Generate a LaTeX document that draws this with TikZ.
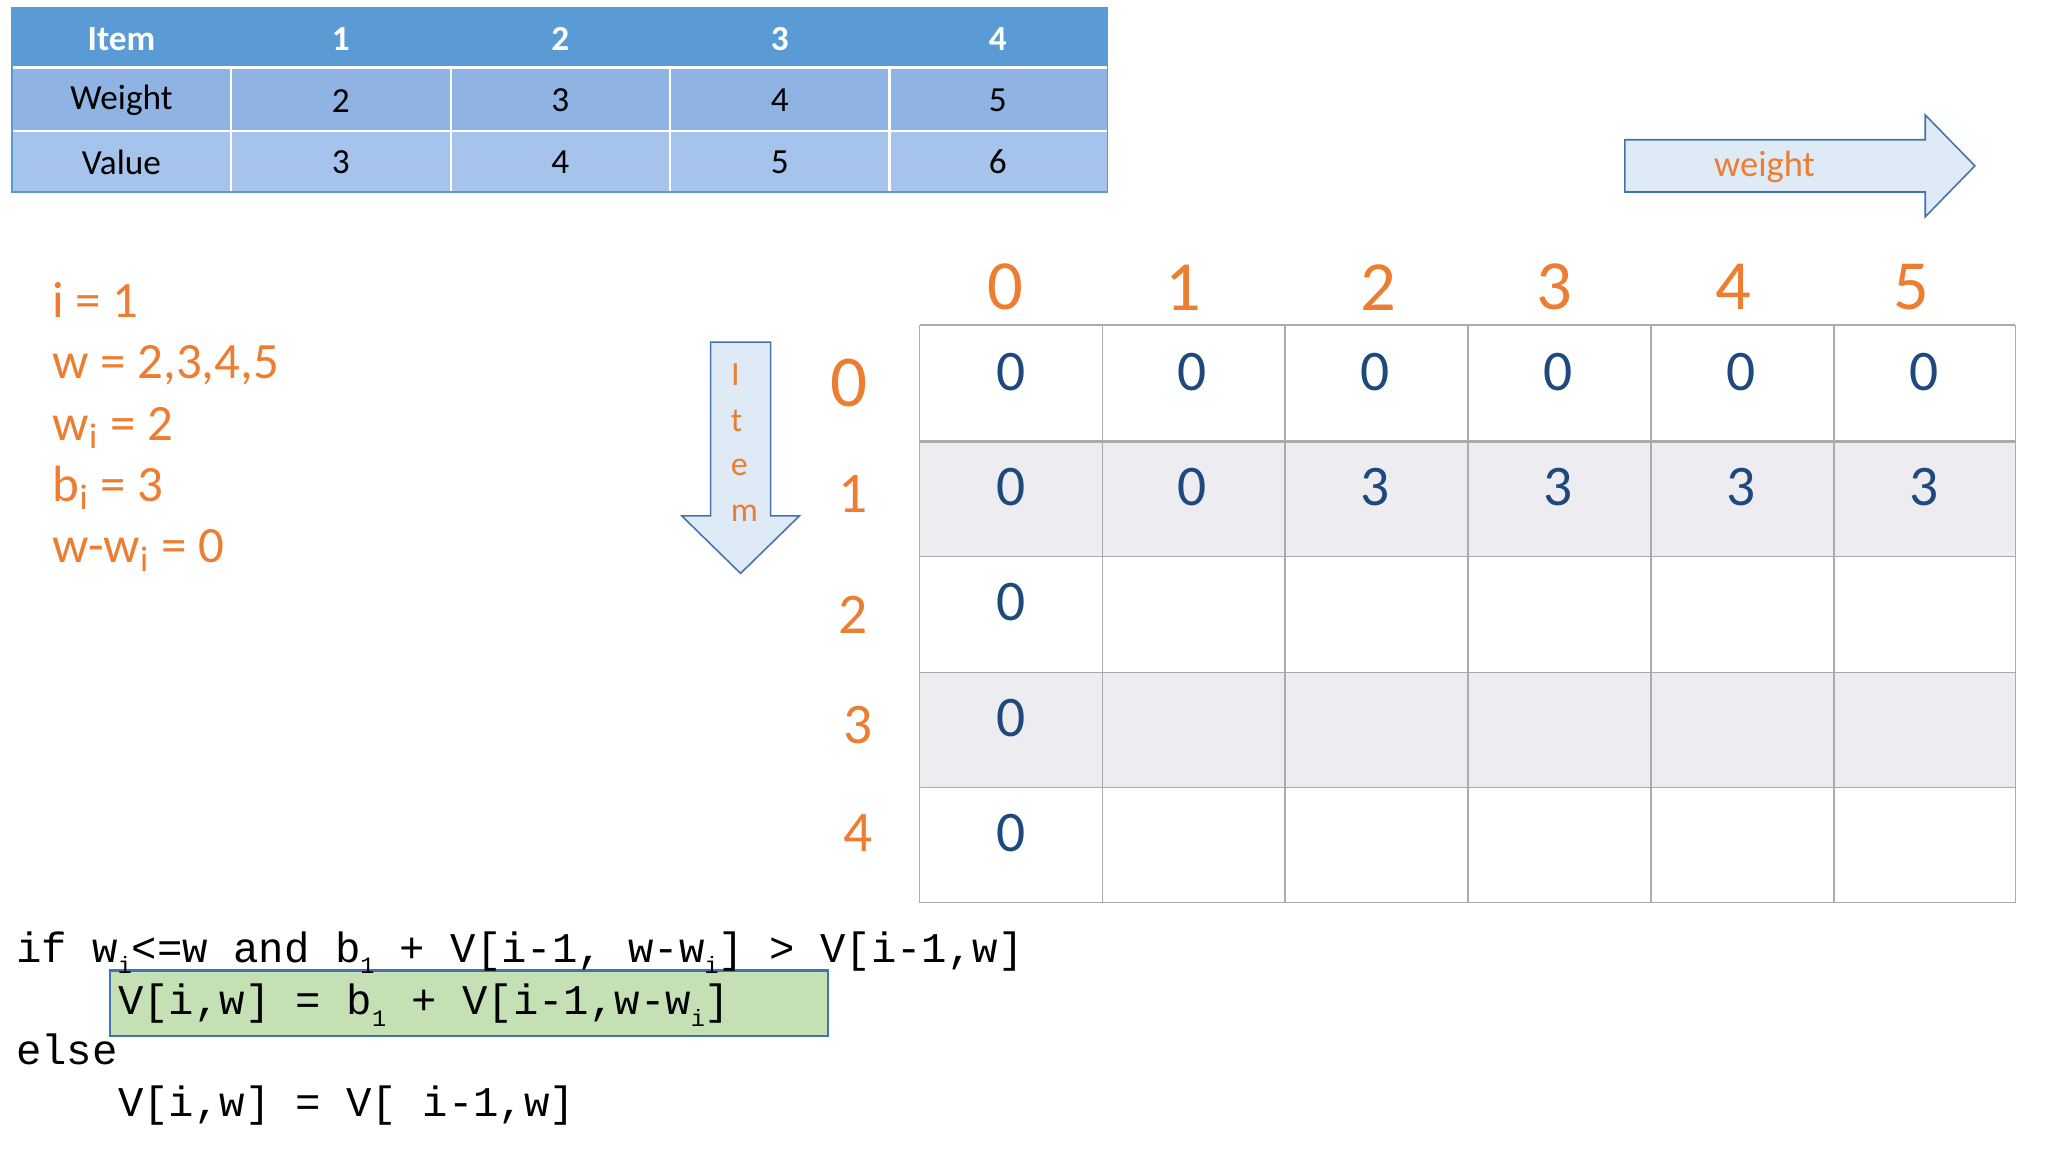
\documentclass[tikz,border=0pt]{standalone}
\usepackage{fontspec}
\setmainfont{Carlito}
\newfontfamily\cour{Liberation Mono}
\definecolor{org}{RGB}{237,125,49}
\definecolor{hdr}{RGB}{91,155,213}
\definecolor{rowa}{RGB}{143,180,227}
\definecolor{rowb}{RGB}{165,195,235}
\definecolor{dnum}{RGB}{31,73,125}
\definecolor{shadec}{RGB}{237,236,240}
\definecolor{gline}{RGB}{170,170,175}
\definecolor{arrf}{RGB}{222,235,247}
\definecolor{arrd}{RGB}{68,114,176}
\definecolor{grn}{RGB}{197,224,180}
\tikzset{
 tcell/.style={font=\fontsize{13.5}{15}\selectfont,text=black},
 thead/.style={font=\fontsize{13.5}{15}\selectfont\bfseries,text=white},
 gnum/.style={font=\fontsize{22}{26}\selectfont,text=dnum},
 colh/.style={font=\fontsize{27}{30}\selectfont,text=org},
 rowh/.style={font=\fontsize{22}{26}\selectfont,text=org},
 ltxt/.style={font=\fontsize{19.5}{22}\selectfont,text=org,anchor=base west,inner sep=0pt},
 code/.style={font=\cour\fontsize{16.2}{18}\selectfont,anchor=base west,inner sep=0pt},
}
\newcommand{\subs}[1]{\raisebox{-0.5ex}{\fontsize{9}{9}\selectfont #1}}
\begin{document}
\begin{tikzpicture}[x=0.5pt,y=-0.5pt]
\useasboundingbox (0,0) rectangle (1568,882);
% top table
\fill[hdr] (9,6) rectangle (848,52);
\fill[rowa] (9,52) rectangle (848,100);
\fill[rowb] (9,100) rectangle (848,147);
\foreach \x in {177,345,513,681} \draw[white,line width=0.8pt] (\x,52) -- (\x,147);
\draw[white,line width=1.2pt] (9,52) -- (848,52);
\draw[white,line width=0.8pt] (9,100) -- (848,100);
\draw[hdr,line width=0.6pt] (9,6) rectangle (848,147);
\node[thead] (h0) at (93,30) {Item};
\node[tcell] (r10) at (93,77) {Weight};
\node[tcell] (r20) at (93,124) {Value};
\foreach \c/\xx/\w/\v in {1/261/2/3,2/429/3/4,3/597/4/5,4/764/5/6}{
 \node[thead] (h\c) at (\xx,30) {\c};
 \node[tcell] (w\c) at (\xx,77) {\w};
 \node[tcell] (v\c) at (\xx,124) {\v};
}
% weight arrow
\draw[arrd,fill=arrf,line width=0.6pt] (1244,107) -- (1474,107) -- (1474,88) -- (1512,127) -- (1474,166) -- (1474,147) -- (1244,147) -- cycle;
\node[font=\fontsize{14}{16}\selectfont,text=org] (wl) at (1351,128) {weight};
% item arrow
\draw[arrd,fill=arrf,line width=0.6pt] (544,262) -- (590,262) -- (590,395) -- (612,395) -- (567,439) -- (522,395) -- (544,395) -- cycle;
\foreach \l/\yy/\xx in {I/287/563,t/322/564,e/358/566,m/393/570}
 \node[font=\fontsize{13}{15}\selectfont,text=org] (it\l) at (\xx,\yy) {\l};
% grid
\fill[shadec] (704,338) rectangle (1543,426);
\fill[shadec] (704,515) rectangle (1543,603);
\foreach \x in {704,844,984,1124,1264,1404,1543} \draw[gline,line width=0.6pt] (\x,249) -- (\x,691);
\foreach \y in {249,426,515,603,691} \draw[gline,line width=0.6pt] (704,\y) -- (1543,\y);
\draw[gline,line width=1.4pt] (704,338) -- (1543,338);
\foreach \c/\xx in {0/770,1/906,2/1055,3/1190,4/1327,5/1463}
 \node[colh] (c\c) at (\xx,220) {\c};
\node[font=\fontsize{28}{30}\selectfont,text=org] (rw0) at (650,293) {0};
\foreach \r/\xx/\yy in {1/653/378,2/653/471,3/657/555,4/657/638}
 \node[rowh] (rw\r) at (\xx,\yy) {\r};
\foreach \c/\xx in {0/774,1/913,2/1053,3/1193,4/1333,5/1473}
 \node[gnum] (g0\c) at (\xx,285) {0};
\foreach \c/\xx/\v in {0/774/0,1/913/0,2/1053/3,3/1193/3,4/1333/3,5/1473/3}
 \node[gnum] (g1\c) at (\xx,373) {\v};
\node[gnum] (g20) at (774,461) {0};
\node[gnum] (g30) at (774,550) {0};
\node[gnum] (g40) at (774,638) {0};
% left text
\node[ltxt] (t1) at (40,243) {i = 1};
\node[ltxt] (t2) at (40,290) {w = 2,3,4,5};
\node[ltxt] (t3) at (40,337) {w\textsubscript{i} = 2};
\node[ltxt] (t4) at (40,384) {b\textsubscript{i} = 3};
\node[ltxt] (t5) at (40,431) {w-w\textsubscript{i} = 0};
% code
\draw[fill=grn,draw=arrd,line width=0.8pt] (84,743) rectangle (634,793);
\node[code] (k1) at (12,737) {if w\subs{i}<=w and b\subs{1} + V[i-1, w-w\subs{i}] > V[i-1,w]};
\node[code] (k2) at (90,777) {V[i,w] = b\subs{1} + V[i-1,w-w\subs{i}]};
\node[code] (k3) at (12,815) {else};
\node[code] (k4) at (90,855) {V[i,w] = V[ i-1,w]};
\end{tikzpicture}
\end{document}
